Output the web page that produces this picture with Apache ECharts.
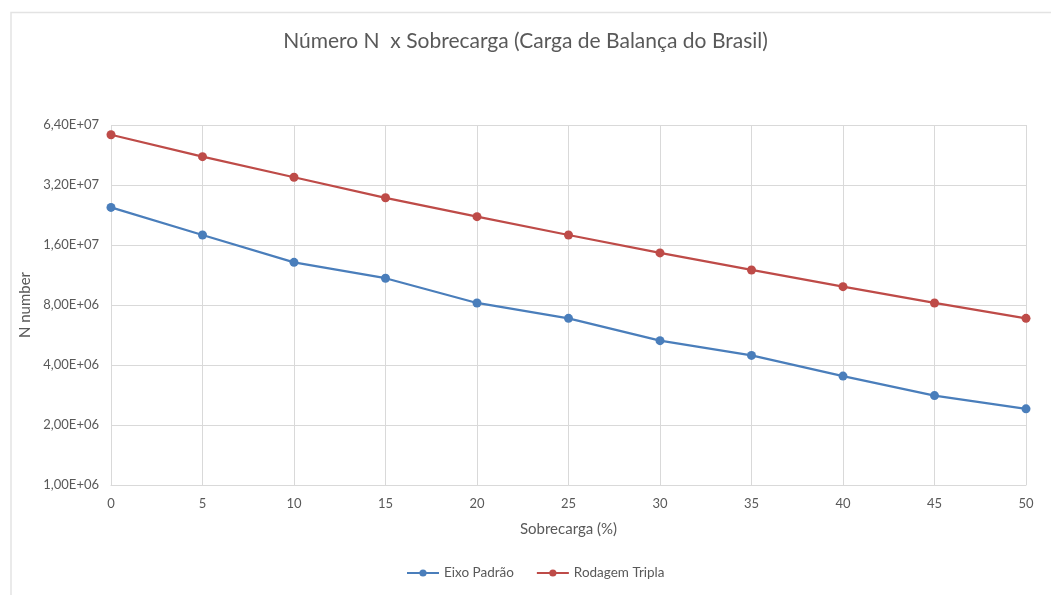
<!DOCTYPE html>
<html>
<head>
<meta charset="utf-8">
<script src="https://cdn.jsdelivr.net/npm/echarts@6/dist/echarts.min.js"></script>
<style>
  html, body { margin: 0; padding: 0; background: #fff; }
  #chart { width: 1051px; height: 595px; }
</style>
</head>
<body>
<div id="chart"></div>
<script>
// sobrecarga (%)
const sobrecarga = [0, 5, 10, 15, 20, 25, 30, 35, 40, 45, 50];
// N number
const eixoPadrao = [24.7e6, 17.96e6, 13.1e6, 10.9e6, 8.19e6, 6.86e6, 5.30e6, 4.47e6, 3.52e6, 2.81e6, 2.41e6];
const rodagemTripla = [57.2e6, 44.4e6, 35.0e6, 27.6e6, 22.2e6, 17.96e6, 14.6e6, 11.99e6, 9.89e6, 8.19e6, 6.86e6];
const yTickLabels = ['1,00E+06', '2,00E+06', '4,00E+06', '8,00E+06', '1,60E+07', '3,20E+07', '6,40E+07'];

const font = 'Lato, "Open Sans", sans-serif';
const gray = '#595959';
const gridColor = '#d9d9d9';

const pairs = arr => sobrecarga.map((x, i) => [x, arr[i]]);

var myChart = echarts.init(document.getElementById('chart'));
var option = {
    backgroundColor: '#fff',
    animation: false,
    title: {
        text: 'Número N  x Sobrecarga (Carga de Balança do Brasil)',
        left: 'center',
        top: 26,
        textStyle: { color: gray, fontFamily: font, fontSize: 21, fontWeight: 'normal' }
    },
    legend: {
        bottom: 10,
        left: 401,
        itemWidth: 32,
        itemHeight: 9,
        itemGap: 22,
        textStyle: { color: gray, fontFamily: font, fontSize: 13.5 },
        data: ['Eixo Padrão', 'Rodagem Tripla']
    },
    grid: { left: 111, right: 25, top: 125, bottom: 110 },
    graphic: [{
        type: 'polyline',
        shape: { points: [[11, 595], [11, 12.5], [1051, 12.5]] },
        style: { stroke: '#e3e3e3', lineWidth: 1.5, fill: null },
        silent: true
    }],
    xAxis: {
        type: 'value',
        min: 0,
        max: 50,
        interval: 5,
        name: 'Sobrecarga (%)',
        nameLocation: 'middle',
        nameGap: 37,
        nameTextStyle: { color: gray, fontFamily: font, fontSize: 15 },
        axisLine: { lineStyle: { color: gridColor, width: 1 } },
        axisTick: { show: false },
        axisLabel: { color: gray, fontFamily: font, fontSize: 13, margin: 12 },
        splitLine: { show: true, lineStyle: { color: gridColor } }
    },
    yAxis: [
        {
            // the series are plotted on this log axis
            type: 'log',
            logBase: 2,
            min: 1e6,
            max: 6.4e7,
            show: false,
            splitLine: { show: false }
        },
        {
            // log2(N / 1e6) steps, used only for gridlines and labels
            type: 'value',
            min: 0,
            max: 6,
            interval: 1,
            position: 'left',
            name: 'N number',
            nameLocation: 'middle',
            nameGap: 74,
            nameRotate: 90,
            nameTextStyle: { color: gray, fontFamily: font, fontSize: 15 },
            axisLine: { show: false },
            axisTick: { show: false },
            axisLabel: {
                color: gray, fontFamily: font, fontSize: 13, margin: 12,
                formatter: v => yTickLabels[Math.round(v)]
            },
            splitLine: { show: true, lineStyle: { color: gridColor } }
        }
    ],
    series: [
        {
            name: 'Eixo Padrão',
            type: 'line',
            yAxisIndex: 0,
            symbol: 'circle',
            symbolSize: 9,
            lineStyle: { width: 2.25, color: '#4a7ebb' },
            itemStyle: { color: '#4a7ebb' },
            data: pairs(eixoPadrao)
        },
        {
            name: 'Rodagem Tripla',
            type: 'line',
            yAxisIndex: 0,
            symbol: 'circle',
            symbolSize: 9,
            lineStyle: { width: 2.25, color: '#be4b48' },
            itemStyle: { color: '#be4b48' },
            data: pairs(rodagemTripla)
        }
    ]
};
myChart.setOption(option);
</script>
</body>
</html>
